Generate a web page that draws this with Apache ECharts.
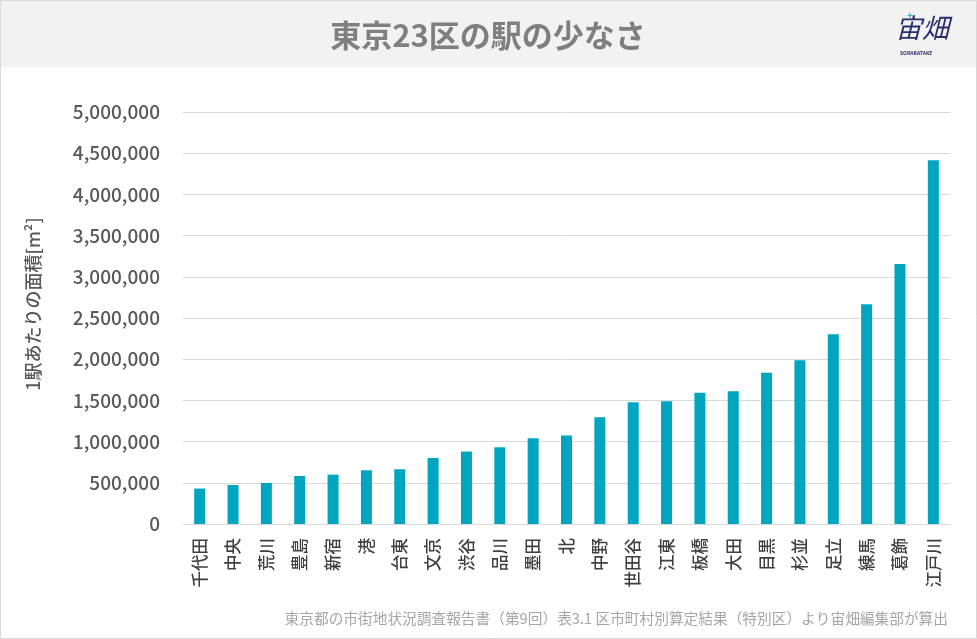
<!DOCTYPE html>
<html>
<head>
<meta charset="utf-8">
<script src="https://cdn.jsdelivr.net/npm/echarts@6/dist/echarts.min.js"></script>
<style>
  html, body { margin: 0; padding: 0; background: #fff; }
  #chart { width: 977px; height: 639px; }
</style>
</head>
<body>
<div id="chart"></div>
<script>
// 区ごとの1駅あたり面積 (m2)
const wards = ['千代田', '中央', '荒川', '豊島', '新宿', '港', '台東', '文京', '渋谷', '品川', '墨田', '北',
  '中野', '世田谷', '江東', '板橋', '大田', '目黒', '杉並', '足立', '練馬', '葛飾', '江戸川'];
const areaPerStation = [430000, 473000, 498000, 583000, 599000, 652000, 664000, 801000, 879000, 931000, 1040000, 1073000,
  1295000, 1477000, 1489000, 1594000, 1610000, 1836000, 1986000, 2302000, 2666000, 3155000, 4414000];

const titleText = '東京23区の駅の少なさ';
const yAxisName = '1駅あたりの面積[m²]';
const sourceText = '東京都の市街地状況調査報告書（第9回）表3.1 区市町村別算定結果（特別区）より宙畑編集部が算出';

const font = '"Noto Sans CJK JP", "Noto Sans", sans-serif';

const chart = echarts.init(document.getElementById('chart'));

const option = {
  backgroundColor: '#fff',
  textStyle: { fontFamily: font },
  grid: { left: 183, right: 27, top: 112, bottom: 115 },
  graphic: [
    { type: 'rect', z: -10, shape: { x: 0.5, y: 0.5, width: 976, height: 638 },
      style: { fill: '#fff', stroke: '#d9d9d9', lineWidth: 1 } },
    { type: 'rect', z: -9, shape: { x: 1, y: 1, width: 975, height: 66 },
      style: { fill: '#f2f2f2' } },
    { type: 'text', x: 488, y: 35,
      style: { text: titleText, fontSize: 31, fontWeight: 'bold', fill: '#7f7f7f', fontFamily: font,
        align: 'center', verticalAlign: 'middle' } },
    { type: 'text', x: 895, y: 14,
      style: { text: '宙畑', fontSize: 27, fill: '#2b2f6e', fontFamily: font, fontStyle: 'italic' } },
    { type: 'text', x: 907, y: 10,
      style: { text: '+', fontSize: 10, fontWeight: 'bold', fill: '#2bb3d0', fontFamily: font } },
    { type: 'text', x: 900, y: 51,
      style: { text: 'SORABATAKE', fontSize: 5, fontWeight: 'bold', fill: '#2b2f6e', fontFamily: font } },
    { type: 'text', x: 33, y: 304, rotation: Math.PI / 2,
      style: { text: yAxisName, fontSize: 18, fontWeight: 500, fill: '#595959', fontFamily: font,
        align: 'center', verticalAlign: 'middle' } },
    { type: 'text', x: 948, y: 618,
      style: { text: sourceText, fontSize: 14.7, fill: '#a6a6a6', fontFamily: font,
        align: 'right', verticalAlign: 'middle' } }
  ],
  xAxis: {
    type: 'category',
    data: wards,
    axisLine: { lineStyle: { color: '#d9d9d9', width: 1 } },
    axisTick: { show: false },
    axisLabel: { rotate: 90, interval: 0, margin: 14, fontSize: 16.5, fontWeight: 500, color: '#404040', fontFamily: font }
  },
  yAxis: {
    type: 'value',
    min: 0,
    max: 5000000,
    interval: 500000,
    axisLine: { show: false },
    axisTick: { show: false },
    splitLine: { lineStyle: { color: '#d9d9d9', width: 1 } },
    axisLabel: {
      margin: 23, fontSize: 19, fontWeight: 500, color: '#595959', fontFamily: font,
      formatter: v => v.toLocaleString('en-US')
    }
  },
  series: [
    {
      type: 'bar',
      data: areaPerStation,
      barWidth: 11,
      itemStyle: { color: '#00a6bf' }
    }
  ]
};

chart.setOption(option);
</script>
</body>
</html>
